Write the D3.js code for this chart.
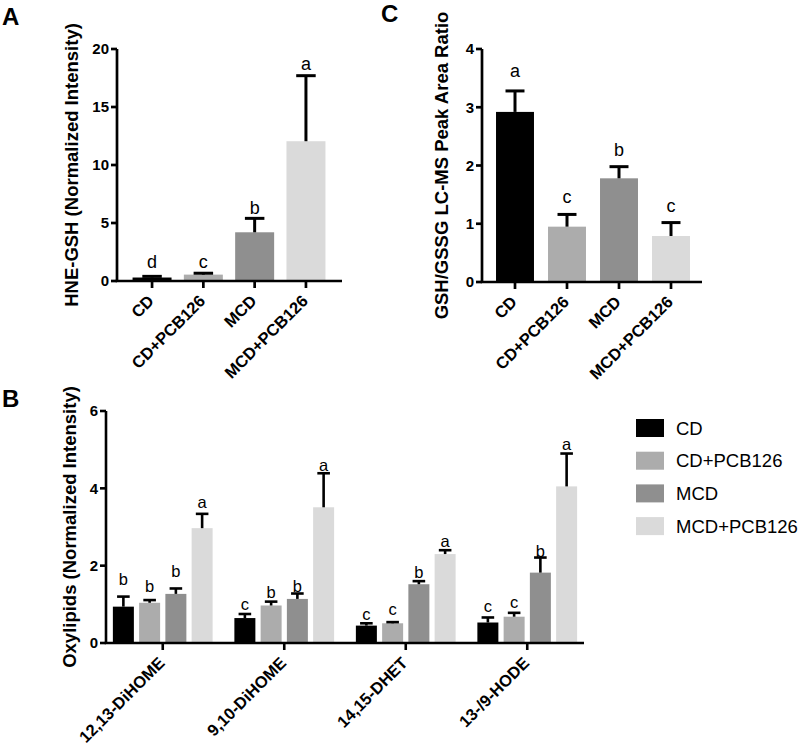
<!DOCTYPE html>
<html>
<head>
<meta charset="utf-8">
<script src="https://cdn.jsdelivr.net/npm/d3@7"></script>
<style>
  body { margin: 0; background: #fff; }
  svg { display: block; font-family: "Liberation Sans", Arial, sans-serif; }
</style>
</head>
<body>
<div id="chart"></div>
<script>
// groups / treatments
const diets = ["CD", "CD+PCB126", "MCD", "MCD+PCB126"];
const dietColors = ["#000000", "#acacac", "#8f8f8f", "#dadada"];

// panel A: HNE-GSH
const hneMean = [0.3, 0.55, 4.2, 12.05];
const hneSem = [0.1, 0.12, 1.2, 5.65];
const hneLetters = ["d", "c", "b", "a"];
const hneLetterAt = [1.1, 1.1, 5.8, 18.2];
const hneTicks = [0, 5, 10, 15, 20];

// panel C: GSH/GSSG
const gshMean = [2.92, 0.95, 1.78, 0.79];
const gshSem = [0.36, 0.21, 0.2, 0.23];
const gshLetters = ["a", "c", "b", "c"];
const gshLetterAt = [3.52, 1.36, 2.16, 1.2];
const gshTicks = [0, 1, 2, 3, 4];

// panel B: oxylipids, one array per diet (order of oxyNames)
const oxyNames = ["12,13-DiHOME", "9,10-DiHOME", "14,15-DHET", "13-/9-HODE"];
const oxyCD = [0.94, 0.645, 0.45, 0.53];
const oxyCDPCB = [1.04, 0.97, 0.51, 0.68];
const oxyMCD = [1.27, 1.14, 1.52, 1.82];
const oxyMCDPCB = [2.97, 3.51, 2.3, 4.05];
const semCD = [0.26, 0.105, 0.06, 0.13];
const semCDPCB = [0.07, 0.1, 0.03, 0.1];
const semMCD = [0.14, 0.14, 0.08, 0.39];
const semMCDPCB = [0.37, 0.88, 0.1, 0.85];
const letCD = ["b", "c", "c", "c"];
const letCDPCB = ["b", "b", "c", "c"];
const letMCD = ["b", "b", "b", "b"];
const letMCDPCB = ["a", "a", "a", "a"];
const letAtCD = [1.5, 0.85, 0.59, 0.8];
const letAtCDPCB = [1.32, 1.16, 0.72, 0.9];
const letAtMCD = [1.7, 1.32, 1.68, 2.22];
const letAtMCDPCB = [3.48, 4.44, 2.48, 5.0];
const oxyTicks = [0, 2, 4, 6];

const svg = d3.select("#chart").append("svg")
    .attr("width", 800)
    .attr("height", 746);

const color = d3.scaleOrdinal().domain(diets).range(dietColors);

function drawAxes(g, x, y, ticks, xr, yr, labels, tickX, opt) {
    const x0 = xr[0], x1 = xr[1], y0 = yr[0];
    // y axis
    g.append("line").attr("x1", x0).attr("x2", x0)
        .attr("y1", y(ticks[ticks.length - 1])).attr("y2", y0)
        .attr("stroke", "#000").attr("stroke-width", opt.sw);
    g.selectAll(".yt").data(ticks).enter().append("line")
        .attr("x1", x0 - 6).attr("x2", x0)
        .attr("y1", d => y(d)).attr("y2", d => y(d))
        .attr("stroke", "#000").attr("stroke-width", opt.sw);
    g.selectAll(".yl").data(ticks).enter().append("text")
        .attr("x", x0 - 8).attr("y", d => y(d))
        .attr("dy", "0.36em")
        .attr("text-anchor", "end")
        .attr("font-weight", "bold")
        .attr("font-size", 15)
        .text(d => d);
    // x axis
    g.append("line").attr("x1", x0 - opt.sw / 2).attr("x2", x1)
        .attr("y1", y0).attr("y2", y0)
        .attr("stroke", "#000").attr("stroke-width", opt.sw);
    g.selectAll(".xt").data(labels).enter().append("line")
        .attr("x1", d => tickX(d)).attr("x2", d => tickX(d))
        .attr("y1", y0).attr("y2", y0 + 7)
        .attr("stroke", "#000").attr("stroke-width", opt.sw);
    g.selectAll(".xl").data(labels).enter().append("text")
        .attr("transform", d => "translate(" + (tickX(d) + 3) + "," + (y0 + 21) + ") rotate(-45)")
        .attr("text-anchor", "end")
        .attr("font-weight", "bold")
        .attr("font-size", 16.5)
        .text(d => d);
    // y title
    g.append("text")
        .attr("transform", "translate(" + opt.titleX + "," + ((y(ticks[ticks.length - 1]) + y0) / 2) + ") rotate(-90)")
        .attr("text-anchor", "middle")
        .attr("font-weight", "bold")
        .attr("font-size", 18.5)
        .text(opt.title);
}

function simplePanel(mean, sem, letters, letterAt, ticks, o) {
    const g = svg.append("g");
    const x = d3.scaleBand().domain(diets).range(o.band)
        .paddingInner(o.pi).paddingOuter(o.po);
    const y = d3.scaleLinear().domain([0, ticks[ticks.length - 1]]).range(o.yr);
    const rows = diets.map((d, i) => ({ name: d, v: mean[i], e: sem[i], l: letters[i], la: letterAt[i] }));

    g.selectAll(".bar").data(rows).enter().append("rect")
        .attr("x", d => x(d.name))
        .attr("width", x.bandwidth())
        .attr("y", d => y(d.v))
        .attr("height", d => y(0) - y(d.v))
        .attr("fill", d => color(d.name));

    const cx = d => x(d.name) + x.bandwidth() / 2;
    const cap = x.bandwidth() * 0.5;
    g.selectAll(".eb").data(rows).enter().append("line")
        .attr("x1", cx).attr("x2", cx)
        .attr("y1", d => y(d.v)).attr("y2", d => y(d.v + d.e))
        .attr("stroke", "#000").attr("stroke-width", 3);
    g.selectAll(".ec").data(rows).enter().append("line")
        .attr("x1", d => cx(d) - cap / 2).attr("x2", d => cx(d) + cap / 2)
        .attr("y1", d => y(d.v + d.e)).attr("y2", d => y(d.v + d.e))
        .attr("stroke", "#000").attr("stroke-width", 3);
    g.selectAll(".lt").data(rows).enter().append("text")
        .attr("x", cx).attr("y", d => y(d.la))
        .attr("text-anchor", "middle")
        .attr("font-size", 18)
        .text(d => d.l);

    drawAxes(g, x, y, ticks, o.xr, o.yr, diets, d => cx({ name: d }),
        { sw: 2.7, title: o.title, titleX: o.titleX });
}

// panel A
simplePanel(hneMean, hneSem, hneLetters, hneLetterAt, hneTicks, {
    band: [126.4, 331.6], pi: 0.24, po: 0.12, xr: [117, 342], yr: [281, 49],
    title: "HNE-GSH (Normalized Intensity)", titleX: 78
});

// panel C
simplePanel(gshMean, gshSem, gshLetters, gshLetterAt, gshTicks, {
    band: [489, 697], pi: 0.27, po: 0.135, xr: [482, 702], yr: [282, 49],
    title: "GSH/GSSG LC-MS Peak Area Ratio", titleX: 448
});

// panel B
(function () {
    const g = svg.append("g");
    const series = [
        { name: diets[0], v: oxyCD, e: semCD, l: letCD, la: letAtCD },
        { name: diets[1], v: oxyCDPCB, e: semCDPCB, l: letCDPCB, la: letAtCDPCB },
        { name: diets[2], v: oxyMCD, e: semMCD, l: letMCD, la: letAtMCD },
        { name: diets[3], v: oxyMCDPCB, e: semMCDPCB, l: letMCDPCB, la: letAtMCDPCB }
    ];
    const x0 = d3.scaleBand().domain(oxyNames).range([102, 588]);
    const x1 = d3.scaleBand().domain(diets).range([-52.5, 52.5])
        .paddingInner(0.2).paddingOuter(0.1);
    const y = d3.scaleLinear().domain([0, 6]).range([643, 411]);

    const cells = [];
    series.forEach(s => oxyNames.forEach((n, i) => {
        cells.push({ grp: n, name: s.name, v: s.v[i], e: s.e[i], l: s.l[i], la: s.la[i] });
    }));
    const gc = n => x0(n) + x0.bandwidth() / 2;
    const cx = d => gc(d.grp) + x1(d.name) + x1.bandwidth() / 2;
    const cap = x1.bandwidth() * 0.6;

    g.selectAll(".bar").data(cells).enter().append("rect")
        .attr("x", d => gc(d.grp) + x1(d.name))
        .attr("width", x1.bandwidth())
        .attr("y", d => y(d.v))
        .attr("height", d => y(0) - y(d.v))
        .attr("fill", d => color(d.name));
    g.selectAll(".eb").data(cells).enter().append("line")
        .attr("x1", cx).attr("x2", cx)
        .attr("y1", d => y(d.v)).attr("y2", d => y(d.v + d.e))
        .attr("stroke", "#000").attr("stroke-width", 2.6);
    g.selectAll(".ec").data(cells).enter().append("line")
        .attr("x1", d => cx(d) - cap / 2).attr("x2", d => cx(d) + cap / 2)
        .attr("y1", d => y(d.v + d.e)).attr("y2", d => y(d.v + d.e))
        .attr("stroke", "#000").attr("stroke-width", 2.6);
    g.selectAll(".lt").data(cells).enter().append("text")
        .attr("x", cx).attr("y", d => y(d.la))
        .attr("text-anchor", "middle")
        .attr("font-size", 16.5)
        .text(d => d.l);

    drawAxes(g, x0, y, oxyTicks, [106, 584], [643, 411], oxyNames, gc,
        { sw: 2.6, title: "Oxylipids (Normalized Intensity)", titleX: 76 });

    // legend
    const lg = g.selectAll(".lg").data(diets).enter().append("g")
        .attr("transform", (d, i) => "translate(636," + (419 + i * 32.7) + ")");
    lg.append("rect").attr("width", 28).attr("height", 18)
        .attr("fill", d => color(d));
    lg.append("text").attr("x", 40).attr("y", 9).attr("dy", "0.36em")
        .attr("font-size", 18.5)
        .text(d => d);
})();

// panel letters
[["A", 2, 25], ["C", 381, 22], ["B", 2, 407]].forEach(p => {
    svg.append("text").attr("x", p[1]).attr("y", p[2])
        .attr("font-weight", "bold").attr("font-size", 24).text(p[0]);
});
</script>
</body>
</html>
